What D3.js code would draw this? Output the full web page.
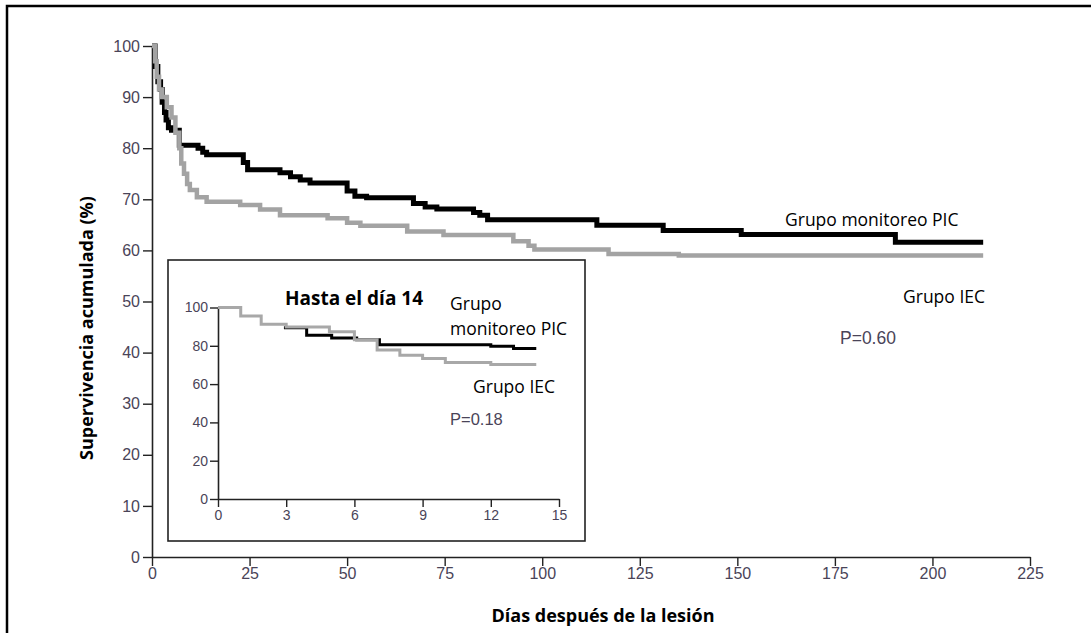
<!DOCTYPE html>
<html>
<head>
<meta charset="utf-8">
<script src="https://cdn.jsdelivr.net/npm/d3@7/dist/d3.min.js"></script>
<style>
  body { margin: 0; background: #fff; }
  svg { display: block; }
  .tick text { fill: #4a4458; font-family: "Liberation Sans", sans-serif; }
  .lbl { font-family: "Open Sans", sans-serif; fill: #000; }
</style>
</head>
<body>
<svg id="chart" width="1091" height="633"></svg>
<script>
// main chart: survival steps [day, %]
var picMain = [[0,100],[0.8,96],[1.5,93],[2.2,91.5],[2.6,89],[3.2,87],[3.6,85.5],[4.2,84],[5,83.5],
  [7,80.6],[11.8,80.0],[13,79.2],[14,78.7],[23.4,77.2],[24.5,75.8],[32.8,75.2],[35.5,74.4],[38,73.8],
  [40.5,73.2],[50,71.6],[52,70.6],[55,70.3],[67,69.2],[70,68.5],[73,68.1],[82.4,67.4],[84,66.9],
  [86,66.0],[114,64.9],[131,63.9],[151,63.1],[190.5,61.6],[213,61.6]];
var iecMain = [[0,100],[0.8,97],[1.2,94],[1.8,91.5],[2.5,90],[3.8,88],[5,86],[6,83],[7,80],[7.5,77],
  [8.2,75],[9,73],[9.7,71.8],[11.5,70.4],[14,69.5],[22.6,68.9],[27.7,68.0],[32.8,66.9],[45,66.3],
  [50,65.4],[53.4,64.8],[65.4,63.7],[74.7,63.0],[92.6,61.8],[96.5,60.9],[98,60.2],[117,59.3],
  [135,59.0],[213,59.0]];

// inset: first 14 days
var picInset = [[2.9,89.4],[3.9,85.5],[5,84.1],[6.1,83.2],[7.1,80.5],[12,79.8],[13,78.6],[14,78.6]];
var iecInset = [[0,100],[1,95.6],[1.9,91.2],[3,89.8],[4.9,87.4],[6,83.1],[7,77.8],[8,75.1],[9,73.4],
  [10,71.3],[12,70.2],[14,70.2]];

var mainXTicks = [0,25,50,75,100,125,150,175,200,225];
var mainYTicks = [0,10,20,30,40,50,60,70,80,90,100];
var insetXTicks = [0,3,6,9,12,15];
var insetYTicks = [0,20,40,60,80,100];

var svg = d3.select("#chart");

// frame (top + left only)
svg.append("path").attr("d", "M7,633 V6 H1091")
  .attr("fill", "none").attr("stroke", "#000").attr("stroke-width", 2.5);

var x = d3.scaleLinear().domain([0,225]).range([152,1030]);
var y = d3.scaleLinear().domain([0,100]).range([557,46]);

function styleAxis(g, fs){
  g.select(".domain").attr("stroke", "#222").attr("stroke-width", 1.6);
  g.selectAll(".tick line").attr("stroke", "#222").attr("stroke-width", 1.4);
  g.selectAll(".tick text").attr("font-size", fs);
}

svg.append("g").attr("transform", "translate(0,557)")
  .call(d3.axisBottom(x).tickValues(mainXTicks).tickSize(9).tickSizeOuter(0).tickPadding(2))
  .call(styleAxis, 16);
svg.append("g").attr("transform", "translate(152,0)")
  .call(d3.axisLeft(y).tickValues(mainYTicks).tickSize(9).tickSizeOuter(0).tickPadding(3))
  .call(styleAxis, 16);

var lineMain = d3.line().x(d => x(d[0])).y(d => y(d[1])).curve(d3.curveStepAfter);
svg.append("path").datum(picMain).attr("d", lineMain)
  .attr("fill", "none").attr("stroke", "#000").attr("stroke-width", 5);
svg.append("path").datum(iecMain).attr("d", lineMain)
  .attr("fill", "none").attr("stroke", "#a3a3a3").attr("stroke-width", 4.5);

svg.append("text").attr("class", "lbl").attr("x", 785).attr("y", 226)
  .attr("font-size", 17.5).text("Grupo monitoreo PIC");
svg.append("text").attr("class", "lbl").attr("x", 903).attr("y", 303)
  .attr("font-size", 17.5).text("Grupo IEC");
svg.append("text").attr("x", 840).attr("y", 344)
  .attr("font-family", "Liberation Sans, sans-serif").attr("font-size", 17.5)
  .attr("fill", "#4a4458").text("P=0.60");

// axis titles
svg.append("text").attr("class", "lbl").attr("x", 603).attr("y", 622)
  .attr("text-anchor", "middle").attr("font-weight", "bold").attr("font-size", 18)
  .text("Días después de la lesión");
svg.append("text").attr("class", "lbl")
  .attr("transform", "translate(93,328) rotate(-90)")
  .attr("text-anchor", "middle").attr("font-weight", "bold").attr("font-size", 18)
  .text("Supervivencia acumulada (%)");

// inset
svg.append("rect").attr("x", 168).attr("y", 260).attr("width", 417).attr("height", 281)
  .attr("fill", "#fff").attr("stroke", "#222").attr("stroke-width", 1.6);

var xi = d3.scaleLinear().domain([0,15]).range([218,559]);
var yi = d3.scaleLinear().domain([0,100]).range([499,307.5]);

svg.append("g").attr("transform", "translate(0,499)")
  .call(d3.axisBottom(xi).tickValues(insetXTicks).tickSize(8).tickSizeOuter(0).tickPadding(3))
  .call(styleAxis, 14);
svg.append("g").attr("transform", "translate(218,0)")
  .call(d3.axisLeft(yi).tickValues(insetYTicks).tickSize(8).tickSizeOuter(0).tickPadding(2))
  .call(styleAxis, 14);

var lineInset = d3.line().x(d => xi(d[0])).y(d => yi(d[1])).curve(d3.curveStepAfter);
svg.append("path").datum(picInset).attr("d", lineInset)
  .attr("fill", "none").attr("stroke", "#000").attr("stroke-width", 3);
svg.append("path").datum(iecInset).attr("d", lineInset)
  .attr("fill", "none").attr("stroke", "#a8a8a8").attr("stroke-width", 3);

svg.append("text").attr("class", "lbl").attr("x", 285).attr("y", 305)
  .attr("font-weight", "bold").attr("font-size", 19).text("Hasta el día 14");
svg.append("text").attr("class", "lbl").attr("x", 450).attr("y", 310)
  .attr("font-size", 17.5).text("Grupo");
svg.append("text").attr("class", "lbl").attr("x", 450).attr("y", 335)
  .attr("font-size", 17.5).text("monitoreo PIC");
svg.append("text").attr("class", "lbl").attr("x", 473).attr("y", 393)
  .attr("font-size", 17.5).text("Grupo IEC");
svg.append("text").attr("x", 450).attr("y", 425)
  .attr("font-family", "Liberation Sans, sans-serif").attr("font-size", 16.5)
  .attr("fill", "#4a4458").text("P=0.18");
</script>
</body>
</html>
